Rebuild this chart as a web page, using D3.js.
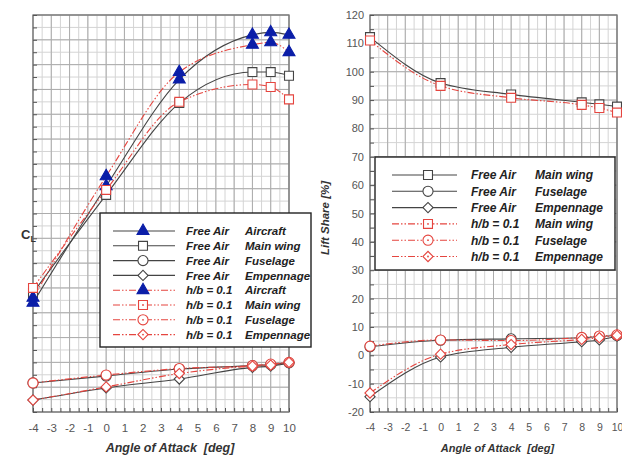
<!DOCTYPE html>
<html>
<head>
<meta charset="utf-8">
<script src="https://cdn.jsdelivr.net/npm/d3@7"></script>
<style>
body { margin: 0; background: #fff; }
svg { display: block; font-family: "Liberation Sans", Arial, sans-serif; }
</style>
</head>
<body>
<div id="chart"></div>
<script>
// angles of attack that were run
var aoa = [-4, 0, 4, 8, 9, 10];
var xTickLabels = [-4, -3, -2, -1, 0, 1, 2, 3, 4, 5, 6, 7, 8, 9, 10];
var shareTickLabels = [-20, -10, 0, 10, 20, 30, 40, 50, 60, 70, 80, 90, 100, 110, 120];

// left panel: lift coefficient
var clFreeAircraft = [0.24, 0.71, 1.14, 1.32, 1.33, 1.32];
var clGroundAircraft = [0.26, 0.75, 1.17, 1.28, 1.29, 1.25];
var clFreeWing = [0.28, 0.675, 1.045, 1.17, 1.17, 1.155];
var clGroundWing = [0.30, 0.695, 1.05, 1.12, 1.11, 1.06];
var clFreeFuselage = [-0.083, -0.055, -0.027, -0.013, -0.009, -0.002];
var clGroundFuselage = [-0.083, -0.051, -0.025, -0.013, -0.007, 0.0];
var clFreeEmpennage = [-0.152, -0.103, -0.067, -0.02, -0.015, -0.002];
var clGroundEmpennage = [-0.152, -0.099, -0.045, -0.015, -0.011, 0.0];

// right panel: lift share in %
var shareFreeWing = [112.2, 96, 92, 89.2, 88.5, 87.7];
var shareGroundWing = [111, 95, 90.8, 88.3, 87.2, 85.6];
var shareFreeFuselage = [3, 5.3, 5.8, 6.2, 6.6, 7];
var shareGroundFuselage = [3.2, 5.4, 5.2, 6.3, 6.8, 7.2];
var shareFreeEmpennage = [-14.6, -0.6, 2.8, 4.8, 5.4, 6.8];
var shareGroundEmpennage = [-13.3, 0.4, 3.8, 5.6, 6.2, 7];

var caseNames = ["Free Air", "h/b = 0.1"];
var partNames = ["Aircraft", "Main wing", "Fuselage", "Empennage"];

var red = "#e5453f", dark = "#444", blue = "#0b1ea8";

var svg = d3.select("#chart").append("svg")
  .attr("width", 622)
  .attr("height", 457);

var line = function(x, y) {
  return d3.line()
    .x(function(d, i) { return x(aoa[i]); })
    .y(function(d) { return y(d); })
    .curve(d3.curveMonotoneX);
};

var markerPath = function(part) {
  if (part == "Aircraft") return d3.symbol().type(d3.symbolTriangle).size(62)();
  if (part == "Main wing") return d3.symbol().type(d3.symbolSquare).size(80)();
  if (part == "Fuselage") return d3.symbol().type(d3.symbolCircle).size(80)();
  return d3.symbol().type(d3.symbolSquare).size(52)();
};

function styleMarker(sel, ground, part) {
  sel.attr("d", markerPath(part))
    .attr("fill", part == "Aircraft" ? blue : "#fff")
    .attr("stroke", part == "Aircraft" ? blue : (ground ? red : dark))
    .attr("stroke-width", 1.1);
}

// plain hyphen like the original, not the unicode minus
var plain = function(d) { return String(d); };

function drawPanel(opt) {
  var x = d3.scaleLinear().domain([-4, 10]).range([opt.x0, opt.x1]);
  var y = d3.scaleLinear().domain(opt.yDomain).range([412, 15]);
  var g = svg.append("g");

  // grid, minor first
  g.selectAll(".vminor").data(d3.range(-4, 10.01, 0.5)).enter().append("line")
    .attr("x1", x).attr("x2", x).attr("y1", 15).attr("y2", 412)
    .attr("stroke", "#d4d4d4").attr("stroke-width", 1);
  g.selectAll(".hminor").data(y.ticks(opt.minorCount)).enter().append("line")
    .attr("x1", opt.x0).attr("x2", opt.x1).attr("y1", y).attr("y2", y)
    .attr("stroke", "#d4d4d4").attr("stroke-width", 1);
  g.selectAll(".vmajor").data(xTickLabels).enter().append("line")
    .attr("x1", x).attr("x2", x).attr("y1", 15).attr("y2", 412)
    .attr("stroke", "#acacac").attr("stroke-width", 1);
  g.selectAll(".hmajor").data(y.ticks(opt.majorCount)).enter().append("line")
    .attr("x1", opt.x0).attr("x2", opt.x1).attr("y1", y).attr("y2", y)
    .attr("stroke", "#acacac").attr("stroke-width", 1);

  g.append("rect")
    .attr("x", opt.x0).attr("y", 15)
    .attr("width", opt.x1 - opt.x0).attr("height", 397)
    .attr("fill", "none").attr("stroke", "#777").attr("stroke-width", 1.3);

  // little inward ticks on the bottom and left axis
  g.append("g").attr("transform", "translate(0,412)")
    .call(d3.axisBottom(x).tickValues(d3.range(-4, 10.01, 0.5)).tickSize(-4).tickFormat(""))
    .call(function(a) { a.select(".domain").remove(); a.selectAll("line").attr("stroke", "#555"); });
  g.append("g").attr("transform", "translate(" + opt.x0 + ",0)")
    .call(d3.axisLeft(y).tickValues(y.ticks(opt.minorCount)).tickSize(-4).tickFormat(""))
    .call(function(a) { a.select(".domain").remove(); a.selectAll("line").attr("stroke", "#555"); });

  // x labels
  g.append("g").attr("transform", "translate(0,412)")
    .call(d3.axisBottom(x).tickValues(xTickLabels).tickSize(0).tickPadding(opt.xPad).tickFormat(plain))
    .call(function(a) {
      a.select(".domain").remove();
      a.selectAll("text").attr("font-size", opt.tickFont).attr("fill", "#555")
        .attr("font-family", "Liberation Sans, Arial, sans-serif");
    });

  g.append("text")
    .attr("x", (opt.x0 + opt.x1) / 2 + opt.titleShift).attr("y", 452)
    .attr("text-anchor", "middle")
    .attr("font-size", opt.titleFont).attr("font-weight", "bold").attr("font-style", "italic")
    .attr("fill", "#333")
    .text("Angle of Attack\u00a0\u00a0[deg]");

  // curves: free air first, ground effect on top
  opt.series.forEach(function(s) {
    g.append("path")
      .attr("d", line(x, y)(s.values))
      .attr("fill", "none")
      .attr("stroke", s.ground ? red : dark)
      .attr("stroke-width", 1.1)
      .attr("stroke-dasharray", s.ground ? "7,2,1.5,2,1.5,2" : null);
  });
  opt.series.forEach(function(s) {
    g.selectAll(null).data(s.values).enter().append("path")
      .attr("transform", function(d, i) {
        return "translate(" + x(aoa[i]) + "," + y(d) + ")" + (s.part == "Empennage" ? " rotate(45)" : "");
      })
      .call(styleMarker, s.ground, s.part);
  });

  return { x: x, y: y, g: g };
}

function drawLegend(box, rows) {
  var lg = svg.append("g");
  lg.append("rect")
    .attr("x", box.x).attr("y", box.y).attr("width", box.w).attr("height", box.h)
    .attr("fill", "#fff").attr("stroke", "#222").attr("stroke-width", 1.4);
  rows.forEach(function(r, i) {
    var cy = box.row0 + i * box.step;
    lg.append("line")
      .attr("x1", box.lx0).attr("x2", box.lx1).attr("y1", cy).attr("y2", cy)
      .attr("stroke", r.ground ? red : dark).attr("stroke-width", 1.1)
      .attr("stroke-dasharray", r.ground ? "7,2,1.5,2,1.5,2" : null);
    lg.append("path")
      .attr("transform", "translate(" + box.mx + "," + cy + ")" + (r.part == "Empennage" ? " rotate(45)" : ""))
      .call(styleMarker, r.ground, r.part);
    if (r.ground && r.part != "Aircraft") {
      lg.append("circle").attr("cx", box.mx).attr("cy", cy).attr("r", 0.9).attr("fill", red);
    }
    [caseNames[r.ground ? 1 : 0], r.part].forEach(function(t, k) {
      lg.append("text")
        .attr("x", k == 0 ? box.t0 : box.t1).attr("y", cy).attr("dy", "0.36em")
        .attr("font-size", box.font).attr("font-weight", "bold").attr("font-style", "italic")
        .attr("fill", "#222")
        .text(t);
    });
  });
}

// ---- left panel
var left = drawPanel({
  x0: 33, x1: 289, yDomain: [-0.2, 1.4], majorCount: 16, minorCount: 32,
  tickFont: 11.5, xPad: 12, titleFont: 12.5, titleShift: 9,
  series: [
    { values: clFreeAircraft, ground: false, part: "Aircraft" },
    { values: clFreeWing, ground: false, part: "Main wing" },
    { values: clFreeFuselage, ground: false, part: "Fuselage" },
    { values: clFreeEmpennage, ground: false, part: "Empennage" },
    { values: clGroundAircraft, ground: true, part: "Aircraft" },
    { values: clGroundWing, ground: true, part: "Main wing" },
    { values: clGroundFuselage, ground: true, part: "Fuselage" },
    { values: clGroundEmpennage, ground: true, part: "Empennage" }
  ]
});

svg.append("text")
  .attr("x", 21).attr("y", 239)
  .attr("font-size", 13).attr("font-weight", "bold").attr("fill", "#333")
  .text("C")
  .append("tspan").attr("dy", 3).attr("font-size", 9).text("L");

// ---- right panel
var right = drawPanel({
  x0: 370, x1: 617, yDomain: [-20, 120], majorCount: 14, minorCount: 28,
  tickFont: 10.5, xPad: 12, titleFont: 11, titleShift: 4,
  series: [
    { values: shareFreeWing, ground: false, part: "Main wing" },
    { values: shareFreeFuselage, ground: false, part: "Fuselage" },
    { values: shareFreeEmpennage, ground: false, part: "Empennage" },
    { values: shareGroundWing, ground: true, part: "Main wing" },
    { values: shareGroundFuselage, ground: true, part: "Fuselage" },
    { values: shareGroundEmpennage, ground: true, part: "Empennage" }
  ]
});

right.g.append("g").attr("transform", "translate(370,0)")
  .call(d3.axisLeft(right.y).tickValues(shareTickLabels).tickSize(0).tickPadding(6).tickFormat(plain))
  .call(function(a) {
    a.select(".domain").remove();
    a.selectAll("text").attr("font-size", 11).attr("fill", "#555")
      .attr("font-family", "Liberation Sans, Arial, sans-serif");
  });

svg.append("text")
  .attr("transform", "translate(329,218) rotate(-90)")
  .attr("text-anchor", "middle")
  .attr("font-size", 11.5).attr("font-weight", "bold").attr("font-style", "italic")
  .attr("fill", "#333")
  .text("Lift Share [%]");

// legends
var legendRowsLeft = [];
[false, true].forEach(function(gr) {
  partNames.forEach(function(p) { legendRowsLeft.push({ ground: gr, part: p }); });
});
drawLegend({ x: 100, y: 213, w: 211, h: 134, row0: 231, step: 14.8,
  lx0: 113, lx1: 175, mx: 143, t0: 186, t1: 245, font: 11.5 }, legendRowsLeft);

var legendRowsRight = legendRowsLeft.filter(function(r) { return r.part != "Aircraft"; });
drawLegend({ x: 375, y: 157, w: 240, h: 113, row0: 175, step: 16.3,
  lx0: 392, lx1: 457, mx: 428, t0: 471, t1: 535, font: 12 }, legendRowsRight);
</script>
</body>
</html>
